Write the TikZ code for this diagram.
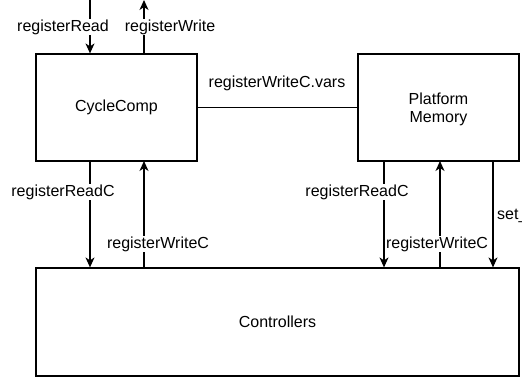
\documentclass[tikz,border=0pt]{standalone}
\usepackage{fontspec}
\setmainfont{Liberation Sans}
\usetikzlibrary{arrows.meta}
\begin{document}
\begin{tikzpicture}[x=1pt,y=-1pt,
  every node/.style={font=\fontsize{16}{18.5}\selectfont},
  box/.style={draw, line width=1.2pt, inner sep=0pt, align=center},
  arr/.style={line width=1.2pt, -{Stealth[length=10pt,width=9pt,inset=3pt]}},
  ln/.style={line width=1.2pt},
  lbl/.style={fill=white, inner sep=1pt}]
\useasboundingbox (0,0) rectangle (522,381);
\node[box, minimum width=161pt, minimum height=107pt] (cc) at (116.5,107.5) {CycleComp};
\node[box, minimum width=161pt, minimum height=107pt] (pm) at (438.5,107.5) {};
\node[align=center] (pmt) at (438.5,109.5) {Platform\\Memory};
\node[box, minimum width=483pt, minimum height=108pt] (ctl) at (277.5,322) {Controllers};
% top arrows
\coordinate (rrTop) at (90,0);
\coordinate (rwTop) at (144,0);
\draw[arr] (rrTop) -- (rrTop |- cc.north);
\draw[arr] (rwTop |- cc.north) -- (rwTop);
\node[lbl] (l1) at (63,27) {registerRead};
\node[lbl] (l2) at (170,27) {registerWrite};
% link
\draw[ln] (cc.east) -- (pm.west);
\node (l3) at (277,83) {registerWriteC.vars};
% left lower
\coordinate (a1) at (90,161);
\coordinate (a2) at (144,161);
\draw[arr] (a1) -- (a1 |- ctl.north);
\draw[arr] (a2 |- ctl.north) -- (a2);
\node[lbl] (l4) at (63,192) {registerReadC};
\node[lbl] (l5) at (158,244) {registerWriteC};
% right lower
\coordinate (b1) at (384,161);
\coordinate (b2) at (440,161);
\coordinate (b3) at (493,161);
\draw[arr] (b1) -- (b1 |- ctl.north);
\draw[arr] (b2 |- ctl.north) -- (b2);
\draw[arr] (b3) -- (b3 |- ctl.north);
\node[lbl] (l6) at (357,192) {registerReadC};
\node[lbl] (l7) at (437,244) {registerWriteC};
\node[lbl, anchor=west] (l8) at (496,216) {set\_};
\end{tikzpicture}
\end{document}
